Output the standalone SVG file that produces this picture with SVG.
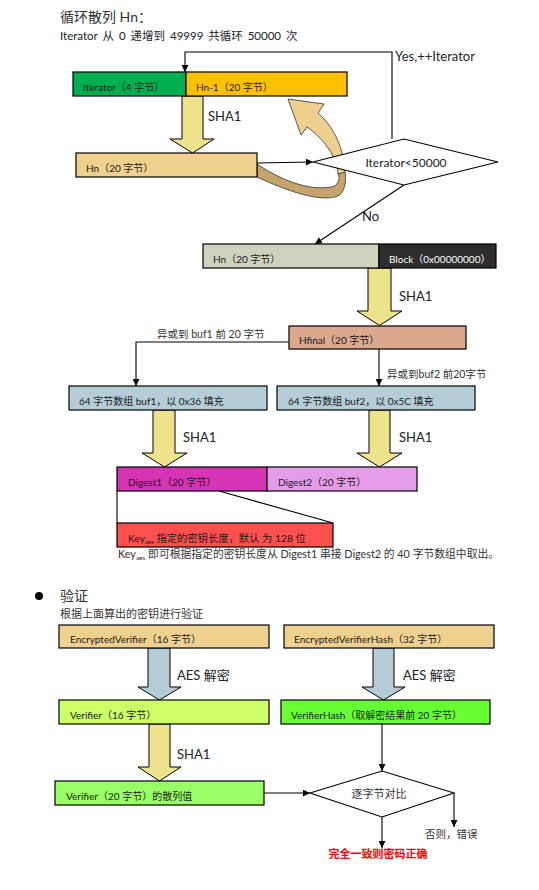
<svg xmlns="http://www.w3.org/2000/svg" width="539" height="890" viewBox="0 0 539 890">
<defs>
<marker id="ah" viewBox="0 0 10 10" refX="10" refY="5" markerWidth="7" markerHeight="7" markerUnits="userSpaceOnUse" orient="auto">
<path d="M0,0 L10,5 L0,10 Z" fill="#000"/>
</marker>
<style>
text{font-family:Lato,"Noto Sans CJK SC",sans-serif;}
.bx{stroke:#000;stroke-width:1.2;}
.t{font-size:10px;fill:#1a1a1a;}
.tw{font-size:10px;fill:#fff;}
.lb{font-size:13px;fill:#222;}
.sm{font-size:10.5px;fill:#333;}
.ln{fill:none;stroke:#000;stroke-width:1.1;}
.ar{fill:none;stroke:#000;stroke-width:1.1;marker-end:url(#ah);}
.ya{fill:#EEE28A;stroke:#000;stroke-width:1;}
.ba{fill:#B4CCD6;stroke:#000;stroke-width:1;}
</style>
</defs>
<rect width="539" height="890" fill="#fff"/>

<text x="60" y="22" style="font-size:14px;fill:#333">循环散列 Hn：</text>
<text x="60" y="40" style="font-size:11.5px;fill:#222;word-spacing:2px">Iterator 从 0 递增到 49999 共循环 50000 次</text>

<g id="curve">
<path d="M257,164 C285,183 315,192 335,186 C339,182 340,178 338,173 L345,172 C347,182 344,193 338,196 C325,201 300,197 257,177 Z" fill="#C4A46A" stroke="#333" stroke-width="0.8"/>
<path d="M338,174 C337,160 328,142 307,127 L301,135 L288,99 L324,104 L318,113 C335,128 344,150 345,172 Z" fill="#EECF8D" stroke="#333" stroke-width="0.8"/>
</g>

<g id="connectors">
<path class="ar" d="M392,139 V52 H185 V72"/>
<path class="ar" d="M257,163 L313,162"/>
<path class="ar" d="M404,185 L315,244"/>
<path class="ar" d="M289,342 H136 V386"/>
<path class="ar" d="M379,349 V386"/>
<path class="ln" d="M117,491 V523 M219,491 L333,523"/>
<path class="ar" d="M382,724 V771"/>
<path class="ar" d="M264,793 H310"/>
<path class="ar" d="M454,793 V827"/>
<path class="ar" d="M382,817 V848"/>
</g>

<g id="arrows">
<polygon class="ya" points="182,96 203,96 203,139 214,139 192.5,153 170,139 182,139"/>
<polygon class="ya" points="368,268 391,268 391,311 402,311 379.5,325.5 357,311 368,311"/>
<polygon class="ya" points="153,410 175,410 175,453 187,453 164.5,467 142,453 153,453"/>
<polygon class="ya" points="369,410 390,410 390,453 402,453 379.5,467 357,453 369,453"/>
<polygon class="ba" points="148,648 170,648 170,687 181,687 159.5,700 138,687 148,687"/>
<polygon class="ba" points="373,648 394,648 394,687 405,687 383.5,700 362,687 373,687"/>
<polygon class="ya" points="149,724 170,724 170,767 181,767 159.5,781 138,767 149,767"/>
<text class="lb" x="208" y="121">SHA1</text>
<text class="lb" x="399" y="301">SHA1</text>
<text class="lb" x="183" y="442">SHA1</text>
<text class="lb" x="399" y="442">SHA1</text>
<text class="lb" x="177" y="680">AES 解密</text>
<text class="lb" x="403" y="680">AES 解密</text>
<text class="lb" x="177" y="759">SHA1</text>
</g>

<g id="labels">
<text class="lb" x="395" y="61">Yes,++Iterator</text>
<text class="lb" x="362" y="221">No</text>
<text class="sm" x="157" y="338">异或到 buf1 前 20 字节</text>
<text class="sm" x="387" y="378">异或到buf2 前20字节</text>
<text class="sm" x="425" y="838">否则，错误</text>
<text x="378" y="858" text-anchor="middle" style="font-size:11px;font-weight:bold;fill:#FF0000">完全一致则密码正确</text>
</g>

<g id="n-iter"><rect class="bx" x="73" y="72" width="113" height="24" fill="#00B050"/><text class="t" x="83" y="91">Iterator（4 字节）</text></g>
<g id="n-hn1"><rect class="bx" x="186" y="72" width="161" height="24" fill="#FFC000"/><text class="t" x="196" y="91">Hn-1（20 字节）</text></g>
<g id="n-hn"><rect class="bx" x="76" y="153" width="181" height="24" fill="#EFD08C"/><text class="t" x="86" y="172">Hn（20 字节）</text></g>
<g id="n-dec1"><polygon points="313,162 404,139 498,162 404,185" fill="#fff" stroke="#000" stroke-width="1.1"/><text x="406" y="167" text-anchor="middle" style="font-size:12px;fill:#222">Iterator&lt;50000</text></g>
<g id="n-hn2"><rect class="bx" x="203" y="244" width="176" height="24" fill="#CED1BD"/><text class="t" x="213" y="263">Hn（20 字节）</text></g>
<g id="n-block"><rect class="bx" x="379" y="244" width="117" height="24" fill="#2D2D2D"/><text class="tw" x="389" y="263">Block（0x00000000）</text></g>
<g id="n-hfinal"><rect class="bx" x="289" y="326" width="177" height="23" fill="#DBA88D"/><text class="t" x="299" y="344">Hfinal（20 字节）</text></g>
<g id="n-buf1"><rect class="bx" x="69" y="386" width="198" height="24" fill="#B5CDD6"/><text class="t" x="79" y="405">64 字节数组 buf1，以 0x36 填充</text></g>
<g id="n-buf2"><rect class="bx" x="277" y="386" width="198" height="24" fill="#B5CDD6"/><text class="t" x="288" y="405">64 字节数组 buf2，以 0x5C 填充</text></g>
<g id="n-dig1"><rect class="bx" x="117" y="467" width="150" height="24" fill="#D535B5"/><text class="t" x="128" y="486">Digest1（20 字节）</text></g>
<g id="n-dig2"><rect class="bx" x="267" y="467" width="150" height="24" fill="#E59CE8"/><text class="t" x="278" y="486">Digest2（20 字节）</text></g>
<g id="n-key"><rect class="bx" x="117" y="523" width="216" height="24" fill="#FF5050"/><text class="t" x="128" y="542" style="font-size:10.3px">Key<tspan style="font-size:6px" dy="2">aes</tspan><tspan dy="-2"> 指定的密钥长度，默认 为 128 位</tspan></text></g>
<text x="118" y="558" style="font-size:10.8px;fill:#333">Key<tspan style="font-size:6.5px" dy="2">aes</tspan><tspan dy="-2"> 即可根据指定的密钥长度从 Digest1 串接 Digest2 的 40 字节数组中取出。</tspan></text>

<circle cx="39" cy="596" r="4" fill="#000"/>
<text x="60" y="601" style="font-size:14px;fill:#333">验证</text>
<text x="60" y="618" style="font-size:11px;fill:#333">根据上面算出的密钥进行验证</text>

<g id="n-ev"><rect class="bx" x="59" y="625" width="210" height="23" fill="#EED18E"/><text class="t" x="70" y="643">EncryptedVerifier（16 字节）</text></g>
<g id="n-evh"><rect class="bx" x="284" y="625" width="210" height="23" fill="#EED18E"/><text class="t" x="294" y="643">EncryptedVerifierHash（32 字节）</text></g>
<g id="n-v"><rect class="bx" x="59" y="700" width="210" height="24" fill="#CCFF66"/><text class="t" x="70" y="719">Verifier（16 字节）</text></g>
<g id="n-vh"><rect class="bx" x="281" y="700" width="209" height="24" fill="#66FF33"/><text class="t" x="291" y="719">VerifierHash（取解密结果前 20 字节）</text></g>
<g id="n-v20"><rect class="bx" x="55" y="781" width="209" height="24" fill="#99FF66"/><text class="t" x="66" y="800">Verifier（20 字节）的散列值</text></g>
<g id="n-dec2"><polygon points="310,793 382,771 454,793 382,817" fill="#fff" stroke="#000" stroke-width="1.1"/><text x="379" y="798" text-anchor="middle" style="font-size:11px;fill:#333">逐字节对比</text></g>
</svg>
